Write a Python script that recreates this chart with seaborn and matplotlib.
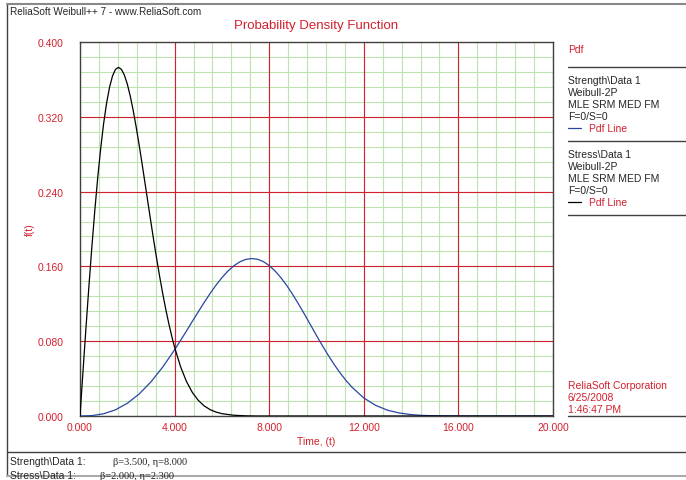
import matplotlib
matplotlib.use("Agg")
import matplotlib.pyplot as plt
import seaborn as sns
import pandas as pd
import numpy as np
from matplotlib.lines import Line2D

# values
strength_t = [0, 0.5, 1, 1.5, 2, 2.5, 3, 3.5, 4, 4.5, 4.75, 5, 5.25, 5.5, 5.75, 6, 6.25, 6.5,
              6.75, 7, 7.25, 7.5, 7.75, 8, 8.25, 8.5, 8.75, 9, 9.25, 9.5, 9.75,
              10, 10.25, 10.5, 10.75, 11, 11.25, 11.5, 12, 12.5, 13, 13.5, 14, 14.5, 15,
              16, 17, 18, 19, 20]
strength_f = [0, 0.0004, 0.0024, 0.0066, 0.0136, 0.0235, 0.0365, 0.0524, 0.0708, 0.0908,
              0.1012, 0.1114, 0.1214, 0.1310, 0.1399, 0.1479, 0.1549, 0.1605,
              0.1648, 0.1674, 0.1684, 0.1677, 0.1652, 0.1609, 0.1551, 0.1478, 0.1393,
              0.1297, 0.1193, 0.1085, 0.0973,
              0.0861, 0.0752, 0.0648, 0.0550, 0.0460, 0.0379, 0.0308, 0.0193, 0.0114,
              0.0062, 0.0032, 0.0015, 0.0006, 0.0003,
              0.0, 0.0, 0.0, 0.0, 0.0]

stress_t = [0, 0.125, 0.25, 0.375, 0.5, 0.625, 0.75, 0.875, 1, 1.125, 1.25, 1.375, 1.5,
            1.625, 1.75, 1.875, 2, 2.125, 2.25, 2.375, 2.5, 2.625, 2.75, 2.875, 3,
            3.125, 3.25, 3.375, 3.5, 3.625, 3.75, 3.875, 4, 4.25, 4.5, 4.75, 5, 5.25,
            5.5, 5.75, 6, 6.5, 7, 7.5, 8, 10, 20]
stress_f = [0, 0.0471, 0.0934, 0.1381, 0.1803, 0.2195, 0.2550, 0.2862, 0.3130, 0.3348,
            0.3517, 0.3637, 0.3707, 0.3729, 0.3708, 0.3647, 0.3550, 0.3422, 0.3267,
            0.3091, 0.2900, 0.2698, 0.2489, 0.2278, 0.2070, 0.1865, 0.1669, 0.1482,
            0.1306, 0.1143, 0.0994, 0.0858, 0.0735, 0.0529, 0.0370, 0.0252, 0.0168,
            0.0108, 0.0068, 0.0042, 0.0025, 0.0008, 0.0002, 0.0, 0.0, 0.0, 0.0]

x_ticks = [0, 4, 8, 12, 16, 20]
y_ticks = [0, 0.08, 0.16, 0.24, 0.32, 0.40]

red = "#d3202e"
green = "#bfe3b0"
frame = "#404040"

sns.set_style("white")
plt.rcParams['font.family'] = ['Liberation Sans', 'DejaVu Sans']

fig = plt.figure(figsize=(6.86, 4.81), dpi=100)
ax = fig.add_axes([80 / 686, 1 - 417 / 481, 473 / 686, 374 / 481])

# minor / major grid
for xv in np.arange(0, 20.01, 0.8):
    ax.axvline(xv, color=green, lw=0.8, zorder=0)
for yv in np.arange(0, 0.4001, 0.016):
    ax.axhline(yv, color=green, lw=0.8, zorder=0)
for xv in x_ticks[1:-1]:
    ax.axvline(xv, color=red, lw=0.8, zorder=1)
for yv in y_ticks[1:-1]:
    ax.axhline(yv, color=red, lw=0.8, zorder=1)

df_s = pd.DataFrame({"t": strength_t, "f": strength_f})
df_st = pd.DataFrame({"t": stress_t, "f": stress_f})
sns.lineplot(data=df_s, x="t", y="f", color="#2746a0", lw=0.9, sort=False, estimator=None, ax=ax, zorder=3)
sns.lineplot(data=df_st, x="t", y="f", color="black", lw=0.9, sort=False, estimator=None, ax=ax, zorder=3)

ax.set_xlim(0, 20)
ax.set_ylim(0, 0.4)
ax.set_xticks(x_ticks)
ax.set_yticks(y_ticks)
ax.set_xticklabels([f"{v:.3f}" for v in x_ticks], color=red, fontsize=7.5)
ax.set_yticklabels([f"{v:.3f}" for v in y_ticks], color=red, fontsize=7.5)
ax.tick_params(axis="both", length=3, width=0.8, color=frame, pad=1.5, direction="out")
ax.tick_params(axis="y", pad=9)
ax.set_xlabel("Time, (t)", color=red, fontsize=7.5, labelpad=3)
ax.set_ylabel("")
for sp in ax.spines.values():
    sp.set_color(frame)
    sp.set_linewidth(1.0)

def px(x, y):
    return x / 686, 1 - y / 481

fig.text(*px(30, 230), "f(t)", fontsize=7.5, color=red, rotation=90, ha="center", va="center")

# outer frame lines
fig.add_artist(Line2D([7 / 686, 7 / 686], [px(0, 5)[1], px(0, 477)[1]], color=frame, lw=1))
fig.add_artist(Line2D([7 / 686, 1], [px(0, 5)[1]] * 2, color="#888888", lw=1.5))
fig.add_artist(Line2D([7 / 686, 1], [px(0, 477)[1]] * 2, color="#aaaaaa", lw=1.5))
fig.add_artist(Line2D([7 / 686, 1], [px(0, 453)[1]] * 2, color=frame, lw=1))

fig.text(*px(10, 12), "ReliaSoft Weibull++ 7 - www.ReliaSoft.com", fontsize=7.2, va="center")
fig.text(*px(316, 26), "Probability Density Function", fontsize=9.5, color=red, ha="center", va="center")

# right-hand legend panel
fig.text(*px(568, 50), "Pdf", fontsize=7.5, color=red, va="center")
for yy in [68, 142, 216, 417]:
    fig.add_artist(Line2D([568 / 686, 1], [px(0, yy)[1]] * 2, color=frame, lw=1))
blocks = [("Strength\\Data 1", "#2746a0", 81), ("Stress\\Data 1", "black", 155)]
for name, col, y0 in blocks:
    for i, line in enumerate([name, "Weibull-2P", "MLE SRM MED FM", "F=0/S=0"]):
        fig.text(*px(568, y0 + 12 * i), line, fontsize=7.5, va="center")
    yl = px(0, y0 + 48)[1]
    fig.add_artist(Line2D([568 / 686, 581 / 686], [yl, yl], color=col, lw=0.9))
    fig.text(*px(589, y0 + 48), "Pdf Line", fontsize=7.5, color=red, va="center")

for i, line in enumerate(["ReliaSoft Corporation", "6/25/2008", "1:46:47 PM"]):
    fig.text(*px(568, 386 + 12 * i), line, fontsize=7.5, color=red, va="center")

# bottom parameter strip
fig.text(*px(10, 462), "Strength\\Data 1:", fontsize=7.5, va="center")
fig.text(*px(113, 463), "\u03b2=3.500, \u03b7=8.000", fontsize=7.5, va="center", family="Liberation Serif")
fig.text(*px(10, 476), "Stress\\Data 1:", fontsize=7.5, va="center")
fig.text(*px(100, 477), "\u03b2=2.000, \u03b7=2.300", fontsize=7.5, va="center", family="Liberation Serif")

plt.savefig("out.png", dpi=100)
